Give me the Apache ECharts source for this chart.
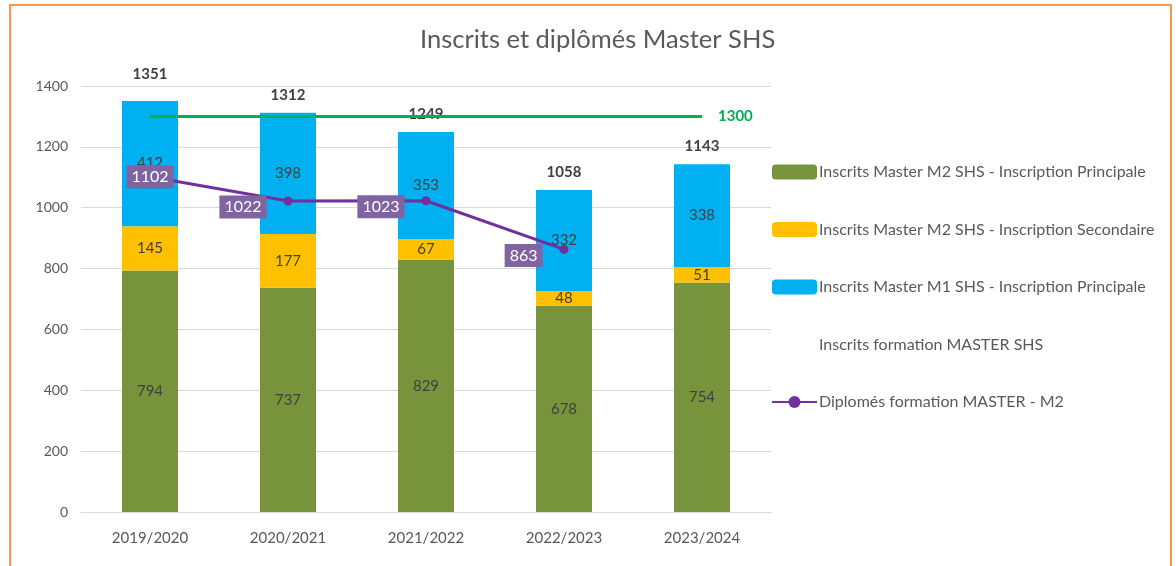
<!DOCTYPE html>
<html>
<head>
<meta charset="utf-8">
<script src="https://cdn.jsdelivr.net/npm/echarts@6/dist/echarts.min.js"></script>
<style>
  html, body { margin: 0; padding: 0; background: #fff; }
  #main { width: 1176px; height: 566px; }
</style>
</head>
<body>
<div id="main"></div>
<script>
var years = ['2019/2020', '2020/2021', '2021/2022', '2022/2023', '2023/2024'];
var m2Principale = [794, 737, 829, 678, 754];
var m2Secondaire = [145, 177, 67, 48, 51];
var m1Principale = [412, 398, 353, 332, 338];
var totalInscrits = [1351, 1312, 1249, 1058, 1143];
var diplomes = [1102, 1022, 1023, 863, null];
var objectif = [1300, 1300, 1300, 1300, 1300];

var names = [
    'Inscrits Master M2 SHS - Inscription Principale',
    'Inscrits Master M2 SHS - Inscription Secondaire',
    'Inscrits Master M1 SHS - Inscription Principale',
    'Inscrits formation MASTER SHS',
    'Diplomés formation MASTER - M2'
];

var font = 'Lato, "Open Sans", sans-serif';
var barLabel = { show: true, position: 'inside', color: '#404040', fontSize: 15, fontFamily: font };

var myChart = echarts.init(document.getElementById('main'));

var option = {
    textStyle: { fontFamily: font },
    animation: false,
    graphic: [{
        type: 'rect',
        shape: { x: 10, y: 5, width: 1161, height: 600 },
        style: { fill: 'none', stroke: '#f79646', lineWidth: 2 }
    }],
    title: {
        text: 'Inscrits et diplômés Master SHS',
        left: 415,
        top: 22,
        textStyle: { color: '#595959', fontSize: 25.5, fontWeight: 'normal', fontFamily: font }
    },
    legend: {
        orient: 'vertical',
        left: 766,
        top: 159,
        itemWidth: 45,
        itemHeight: 15,
        itemGap: 41.5,
        textStyle: { color: '#595959', fontSize: 16, lineHeight: 16, fontFamily: font, padding: [0, 0, 0, -3] },
        data: [
            { name: names[0] },
            { name: names[1] },
            { name: names[2] },
            { name: names[3], icon: 'none' },
            { name: names[4] }
        ]
    },
    grid: { left: 81, right: 405, top: 86, bottom: 54 },
    xAxis: {
        type: 'category',
        data: years,
        axisLine: { lineStyle: { color: '#d9d9d9' } },
        axisTick: { show: false },
        axisLabel: { color: '#595959', fontSize: 15, margin: 19, fontFamily: font }
    },
    yAxis: {
        type: 'value',
        min: 0,
        max: 1400,
        interval: 200,
        axisLine: { show: false },
        axisTick: { show: false },
        splitLine: { lineStyle: { color: '#d9d9d9' } },
        axisLabel: {
            color: '#595959', fontSize: 14, margin: 13, fontFamily: font,
            formatter: function (v) { return String(v); }
        }
    },
    series: [{
        name: names[0],
        type: 'bar',
        stack: 'inscrits',
        barWidth: 56,
        data: m2Principale,
        itemStyle: { color: '#77933c' },
        label: barLabel
    }, {
        name: names[1],
        type: 'bar',
        stack: 'inscrits',
        data: m2Secondaire,
        itemStyle: { color: '#ffc000' },
        label: barLabel
    }, {
        name: names[2],
        type: 'bar',
        stack: 'inscrits',
        data: m1Principale,
        itemStyle: { color: '#00b0f0' },
        label: barLabel
    }, {
        name: names[3],
        type: 'line',
        data: totalInscrits.map(function (v, i) {
            return i === 0 ? { value: v, label: { offset: [0, -9] } } : v;
        }),
        symbol: 'circle',
        symbolSize: 1,
        itemStyle: { color: 'transparent' },
        lineStyle: { width: 0, opacity: 0 },
        label: {
            show: true,
            position: 'top',
            distance: 10,
            color: '#404040',
            fontSize: 15,
            fontWeight: 'bold',
            fontFamily: font
        },
        z: 4
    }, {
        name: 'Objectif',
        type: 'line',
        data: objectif,
        symbol: 'none',
        lineStyle: { color: '#00b050', width: 3 },
        itemStyle: { color: '#00b050' },
        endLabel: {
            show: true,
            formatter: '{c}',
            color: '#00b050',
            fontSize: 15,
            fontWeight: 'bold',
            distance: 16,
            fontFamily: font
        },
        z: 5
    }, {
        name: names[4],
        type: 'line',
        data: diplomes.map(function (v, i) {
            return i === 0 ? { value: v, label: { position: 'inside', offset: [0, 0] } } : v;
        }),
        symbol: 'circle',
        symbolSize: 9,
        lineStyle: { color: '#7030a0', width: 3 },
        itemStyle: { color: '#7030a0' },
        label: {
            show: true,
            position: 'left',
            distance: 17,
            offset: [0, 6],
            color: '#fff',
            fontSize: 16,
            fontFamily: font,
            backgroundColor: '#8064a2',
            padding: [4, 5, 3, 5]
        },
        z: 6
    }]
};

myChart.setOption(option);
window.addEventListener('resize', function () {
    myChart.resize();
});
</script>
</body>
</html>
